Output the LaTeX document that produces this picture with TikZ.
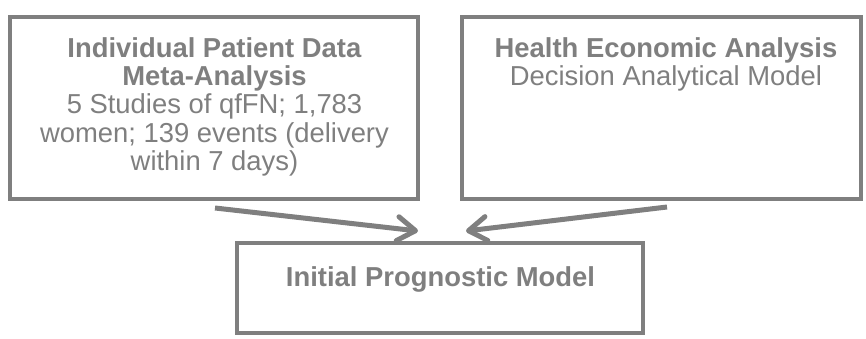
\documentclass[tikz,border=0pt]{standalone}
\usepackage{fontspec}
\setmainfont{Liberation Sans}
\usetikzlibrary{arrows.meta}
\definecolor{gr}{HTML}{7F7F7F}
\tikzset{
  box/.style={draw=gr, line width=4.5pt, rectangle, inner sep=0pt, outer sep=0pt, anchor=north west},
  txt/.style={text=gr, align=center, font=\fontsize{27.4}{28.4}\selectfont, inner sep=0pt, anchor=north},
  arr/.style={draw=gr, line width=5pt, -{Straight Barb[round, length=18pt, width=24pt]}}
}
\begin{document}
\begin{tikzpicture}[x=1pt,y=-1pt]
\useasboundingbox (0,0) rectangle (866,339);
\node[box, minimum width=408pt, minimum height=182pt] (ipd) at (10,17) {};
\node[box, minimum width=399pt, minimum height=182pt] (hea) at (462,17) {};
\node[box, minimum width=406pt, minimum height=90pt] (ipm) at (237,243) {};
\node[txt] (ipdt) at (214.5,37) {\textbf{Individual Patient Data}\\\textbf{Meta-Analysis}\\5 Studies of qfFN; 1,783\\women; 139 events (delivery\\within 7 days)};
\node[txt] (heat) at (666,37) {\textbf{Health Economic Analysis}\\Decision Analytical Model};
\node[txt] (ipmt) at (440.5,266) {\textbf{Initial Prognostic Model}};
\coordinate (a1) at (215,208);
\coordinate (a2) at (667,207);
\coordinate (t1) at (418,231);
\coordinate (t2) at (466,231);
\draw[arr] (a1) -- (t1);
\draw[arr] (a2) -- (t2);
\end{tikzpicture}
\end{document}
